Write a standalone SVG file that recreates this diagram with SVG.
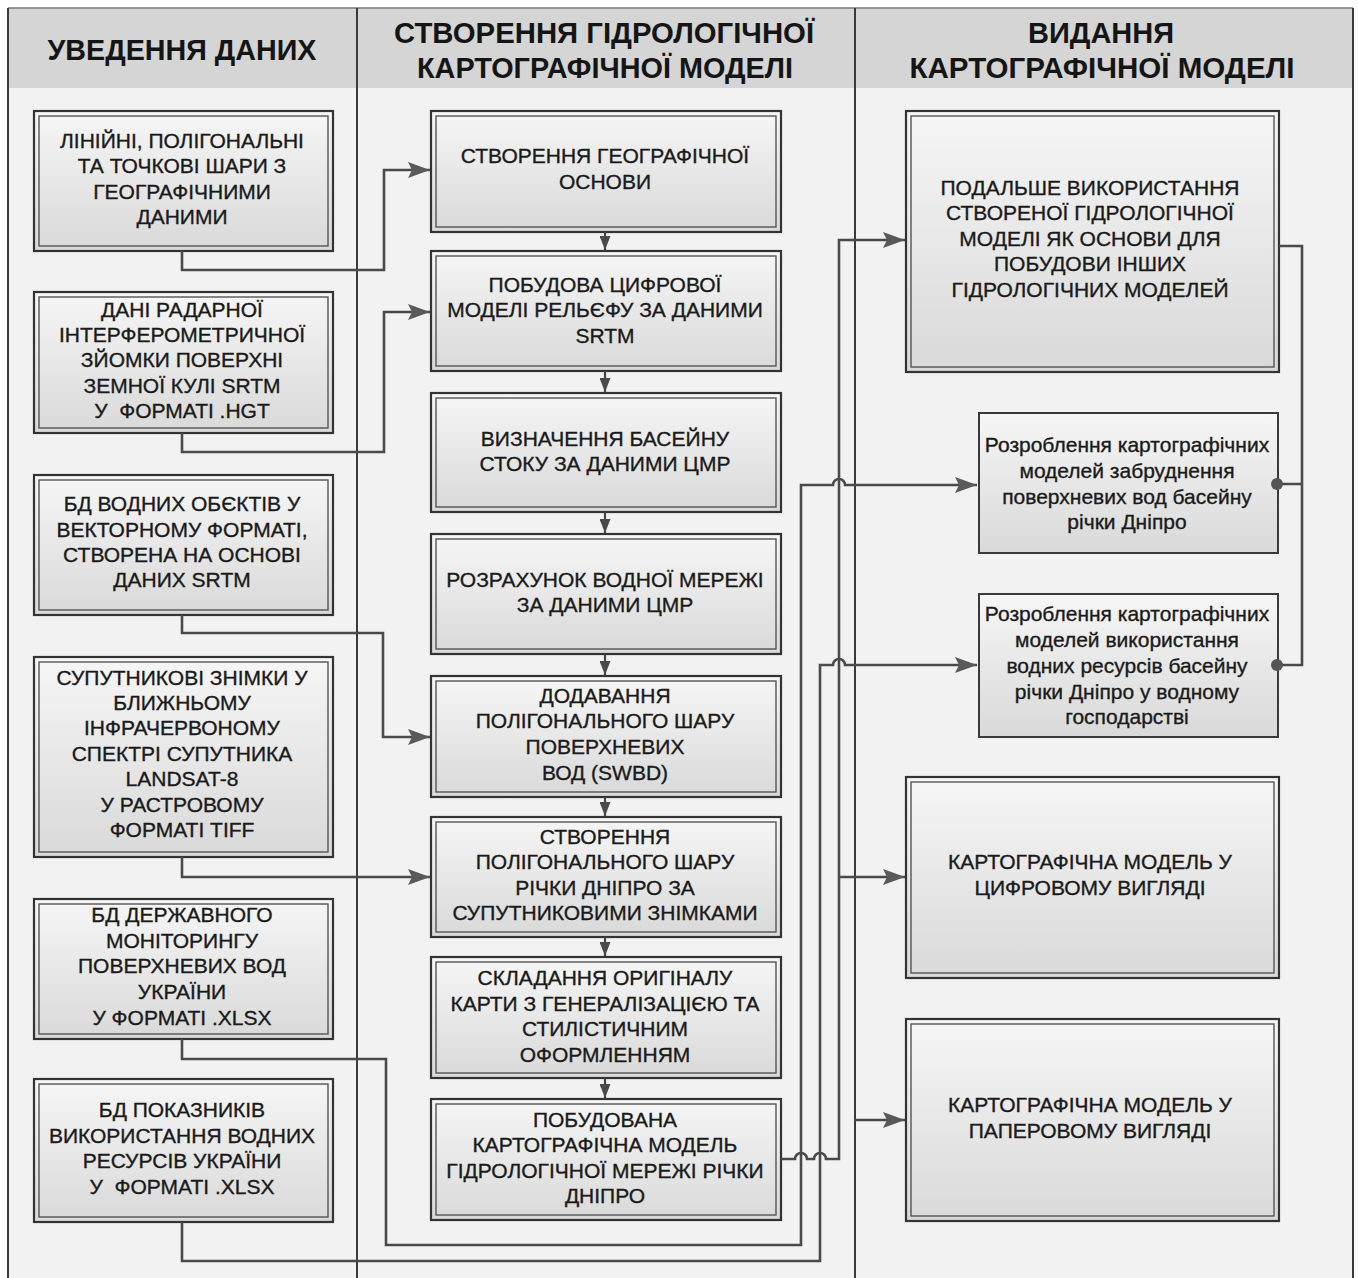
<svg xmlns="http://www.w3.org/2000/svg" width="1358" height="1278" viewBox="0 0 1358 1278">
<defs>
<linearGradient id="g" x1="0" y1="0" x2="0" y2="1">
<stop offset="0" stop-color="#f6f6f6"/>
<stop offset="1" stop-color="#d9d9d9"/>
</linearGradient>
<marker id="ah" viewBox="0 0 22 16" refX="22" refY="8" markerWidth="22" markerHeight="16" markerUnits="userSpaceOnUse" orient="auto">
<path d="M0,0 L22,8 L0,16 L4,8 Z" fill="#5a5a5a"/>
</marker>
<marker id="ad" viewBox="0 0 14 11" refX="14" refY="5.5" markerWidth="14" markerHeight="11" markerUnits="userSpaceOnUse" orient="auto">
<path d="M0,0 L14,5.5 L0,11 Z" fill="#4a4a4a"/>
</marker>
</defs>
<style>
.o{fill:url(#g);stroke:#333;stroke-width:2.2}
.i{fill:none;stroke:#555;stroke-width:1.4}
.s{fill:url(#g);stroke:#3a3a3a;stroke-width:2}
.t{font-family:"Liberation Sans",Arial,sans-serif;font-size:21px;fill:#1a1a1a;stroke:#1a1a1a;stroke-width:0.35;text-anchor:middle}
.h{font-family:"Liberation Sans",Arial,sans-serif;font-size:29px;font-weight:bold;fill:#151515;text-anchor:middle}
.c{fill:none;stroke:#4a4a4a;stroke-width:2.6}
.d{fill:none;stroke:#444;stroke-width:2.2}
.fr{fill:none;stroke:#3a3a3a;stroke-width:2}
</style>
<rect x="0" y="0" width="1358" height="1278" fill="#ffffff"/>
<g id="frame">
<rect x="8" y="8" width="1345" height="1270" fill="#f2f2f2"/>
<rect x="8" y="8" width="1345" height="80" fill="#d5d5d5"/>
<line x1="8" y1="8" x2="1353" y2="8" stroke="#777" stroke-width="1.5"/>
<line x1="8" y1="8" x2="8" y2="1278" class="fr"/>
<line x1="1353" y1="8" x2="1353" y2="1278" class="fr"/>
<line x1="357" y1="8" x2="357" y2="1278" class="fr"/>
<line x1="855" y1="8" x2="855" y2="1278" class="fr"/>
<text class="h" x="182" y="60" textLength="269" lengthAdjust="spacingAndGlyphs">УВЕДЕННЯ ДАНИХ</text>
<text class="h" x="604" y="43" textLength="420" lengthAdjust="spacingAndGlyphs">СТВОРЕННЯ ГІДРОЛОГІЧНОЇ</text>
<text class="h" x="605" y="78" textLength="376" lengthAdjust="spacingAndGlyphs">КАРТОГРАФІЧНОЇ МОДЕЛІ</text>
<text class="h" x="1101" y="43">ВИДАННЯ</text>
<text class="h" x="1102" y="78" textLength="385" lengthAdjust="spacingAndGlyphs">КАРТОГРАФІЧНОЇ МОДЕЛІ</text>
</g>

<g id="L1"><rect class="o" x="34" y="111" width="299" height="140"/><rect class="i" x="39" y="116" width="289" height="130"/>
<text class="t" x="182" y="148">ЛІНІЙНІ, ПОЛІГОНАЛЬНІ</text><text class="t" x="182" y="173">ТА ТОЧКОВІ ШАРИ З</text><text class="t" x="182" y="199">ГЕОГРАФІЧНИМИ</text><text class="t" x="182" y="224">ДАНИМИ</text></g>
<g id="L2"><rect class="o" x="34" y="292" width="299" height="141"/><rect class="i" x="39" y="297" width="289" height="131"/>
<text class="t" x="182" y="317">ДАНІ РАДАРНОЇ</text><text class="t" x="182" y="342">ІНТЕРФЕРОМЕТРИЧНОЇ</text><text class="t" x="182" y="367">ЗЙОМКИ ПОВЕРХНІ</text><text class="t" x="182" y="393">ЗЕМНОЇ КУЛІ SRTM</text><text class="t" x="182" y="418" xml:space="preserve">У  ФОРМАТІ .HGT</text></g>
<g id="L3"><rect class="o" x="34" y="475" width="299" height="140"/><rect class="i" x="39" y="480" width="289" height="130"/>
<text class="t" x="182" y="511">БД ВОДНИХ ОБЄКТІВ У</text><text class="t" x="182" y="537">ВЕКТОРНОМУ ФОРМАТІ,</text><text class="t" x="182" y="562">СТВОРЕНА НА ОСНОВІ</text><text class="t" x="182" y="587">ДАНИХ SRTM</text></g>
<g id="L4"><rect class="o" x="34" y="657" width="299" height="200"/><rect class="i" x="39" y="662" width="289" height="190"/>
<text class="t" x="182" y="685">СУПУТНИКОВІ ЗНІМКИ У</text><text class="t" x="182" y="710">БЛИЖНЬОМУ</text><text class="t" x="182" y="735">ІНФРАЧЕРВОНОМУ</text><text class="t" x="182" y="761">СПЕКТРІ СУПУТНИКА</text><text class="t" x="182" y="786">LANDSAT-8</text><text class="t" x="182" y="812">У РАСТРОВОМУ</text><text class="t" x="182" y="837">ФОРМАТІ TIFF</text></g>
<g id="L5"><rect class="o" x="34" y="899" width="299" height="140"/><rect class="i" x="39" y="904" width="289" height="130"/>
<text class="t" x="182" y="922">БД ДЕРЖАВНОГО</text><text class="t" x="182" y="948">МОНІТОРИНГУ</text><text class="t" x="182" y="973">ПОВЕРХНЕВИХ ВОД</text><text class="t" x="182" y="999">УКРАЇНИ</text><text class="t" x="182" y="1025">У ФОРМАТІ .XLSX</text></g>
<g id="L6"><rect class="o" x="34" y="1079" width="299" height="143"/><rect class="i" x="39" y="1084" width="289" height="133"/>
<text class="t" x="182" y="1117">БД ПОКАЗНИКІВ</text><text class="t" x="182" y="1143">ВИКОРИСТАННЯ ВОДНИХ</text><text class="t" x="182" y="1168">РЕСУРСІВ УКРАЇНИ</text><text class="t" x="182" y="1194" xml:space="preserve">У  ФОРМАТІ .XLSX</text></g>

<g id="M1"><rect class="o" x="431" y="111" width="350" height="121"/><rect class="i" x="436" y="116" width="340" height="111"/>
<text class="t" x="605" y="163">СТВОРЕННЯ ГЕОГРАФІЧНОЇ</text><text class="t" x="605" y="189">ОСНОВИ</text></g>
<g id="M2"><rect class="o" x="431" y="251" width="350" height="120"/><rect class="i" x="436" y="256" width="340" height="110"/>
<text class="t" x="605" y="292">ПОБУДОВА ЦИФРОВОЇ</text><text class="t" x="605" y="317">МОДЕЛІ РЕЛЬЄФУ ЗА ДАНИМИ</text><text class="t" x="605" y="343">SRTM</text></g>
<g id="M3"><rect class="o" x="431" y="393" width="350" height="119"/><rect class="i" x="436" y="398" width="340" height="109"/>
<text class="t" x="605" y="446">ВИЗНАЧЕННЯ БАСЕЙНУ</text><text class="t" x="605" y="471">СТОКУ ЗА ДАНИМИ ЦМР</text></g>
<g id="M4"><rect class="o" x="431" y="534" width="350" height="120"/><rect class="i" x="436" y="539" width="340" height="110"/>
<text class="t" x="605" y="587">РОЗРАХУНОК ВОДНОЇ МЕРЕЖІ</text><text class="t" x="605" y="612">ЗА ДАНИМИ ЦМР</text></g>
<g id="M5"><rect class="o" x="431" y="676" width="350" height="121"/><rect class="i" x="436" y="681" width="340" height="111"/>
<text class="t" x="605" y="703">ДОДАВАННЯ</text><text class="t" x="605" y="728">ПОЛІГОНАЛЬНОГО ШАРУ</text><text class="t" x="605" y="754">ПОВЕРХНЕВИХ</text><text class="t" x="605" y="780">ВОД (SWBD)</text></g>
<g id="M6"><rect class="o" x="431" y="817" width="350" height="120"/><rect class="i" x="436" y="822" width="340" height="110"/>
<text class="t" x="605" y="844">СТВОРЕННЯ</text><text class="t" x="605" y="869">ПОЛІГОНАЛЬНОГО ШАРУ</text><text class="t" x="605" y="895">РІЧКИ ДНІПРО ЗА</text><text class="t" x="605" y="920">СУПУТНИКОВИМИ ЗНІМКАМИ</text></g>
<g id="M7"><rect class="o" x="431" y="957" width="350" height="121"/><rect class="i" x="436" y="962" width="340" height="111"/>
<text class="t" x="605" y="985">СКЛАДАННЯ ОРИГІНАЛУ</text><text class="t" x="605" y="1011">КАРТИ З ГЕНЕРАЛІЗАЦІЄЮ ТА</text><text class="t" x="605" y="1036">СТИЛІСТИЧНИМ</text><text class="t" x="605" y="1062">ОФОРМЛЕННЯМ</text></g>
<g id="M8"><rect class="o" x="431" y="1099" width="350" height="121"/><rect class="i" x="436" y="1104" width="340" height="111"/>
<text class="t" x="605" y="1127">ПОБУДОВАНА</text><text class="t" x="605" y="1152">КАРТОГРАФІЧНА МОДЕЛЬ</text><text class="t" x="605" y="1178">ГІДРОЛОГІЧНОЇ МЕРЕЖІ РІЧКИ</text><text class="t" x="605" y="1203">ДНІПРО</text></g>

<g id="R1"><rect class="o" x="906" y="111" width="373" height="261"/><rect class="i" x="911" y="116" width="363" height="251"/>
<text class="t" x="1090" y="195">ПОДАЛЬШЕ ВИКОРИСТАННЯ</text><text class="t" x="1090" y="220">СТВОРЕНОЇ ГІДРОЛОГІЧНОЇ</text><text class="t" x="1090" y="246">МОДЕЛІ ЯК ОСНОВИ ДЛЯ</text><text class="t" x="1090" y="271">ПОБУДОВИ ІНШИХ</text><text class="t" x="1090" y="297">ГІДРОЛОГІЧНИХ МОДЕЛЕЙ</text></g>
<g id="R2"><rect class="s" x="979" y="413" width="299" height="140"/>
<text class="t" x="1127" y="452">Розроблення картографічних</text><text class="t" x="1127" y="478">моделей забруднення</text><text class="t" x="1127" y="504">поверхневих вод басейну</text><text class="t" x="1127" y="529">річки Дніпро</text></g>
<g id="R3"><rect class="s" x="979" y="594" width="299" height="143"/>
<text class="t" x="1127" y="621">Розроблення картографічних</text><text class="t" x="1127" y="647">моделей використання</text><text class="t" x="1127" y="673">водних ресурсів басейну</text><text class="t" x="1127" y="699">річки Дніпро у водному</text><text class="t" x="1127" y="724">господарстві</text></g>
<g id="R4"><rect class="o" x="906" y="777" width="373" height="201"/><rect class="i" x="911" y="782" width="363" height="191"/>
<text class="t" x="1090" y="869">КАРТОГРАФІЧНА МОДЕЛЬ У</text><text class="t" x="1090" y="895">ЦИФРОВОМУ ВИГЛЯДІ</text></g>
<g id="R5"><rect class="o" x="906" y="1019" width="373" height="202"/><rect class="i" x="911" y="1024" width="363" height="192"/>
<text class="t" x="1090" y="1112">КАРТОГРАФІЧНА МОДЕЛЬ У</text><text class="t" x="1090" y="1138">ПАПЕРОВОМУ ВИГЛЯДІ</text></g>

<g id="connectors">
<path class="c" d="M182,251 V270 H384 V170 H430" marker-end="url(#ah)"/>
<path class="c" d="M182,433 V452 H384 V312 H430" marker-end="url(#ah)"/>
<path class="c" d="M182,615 V633 H383 V737 H430" marker-end="url(#ah)"/>
<path class="c" d="M182,857 V877 H430" marker-end="url(#ah)"/>
<path class="c" d="M182,1039 V1059 H386 V1245 H801 V485 H833 A6,6 0 0 1 845,485 H977" marker-end="url(#ah)"/>
<path class="c" d="M182,1222 V1261 H820 V665 H833 A6,6 0 0 1 845,665 H977" marker-end="url(#ah)"/>
<path class="c" d="M781,1159 H795 A6,6 0 0 1 807,1159 H814 A6,6 0 0 1 826,1159 H839 V240 H905" marker-end="url(#ah)"/>
<path class="c" d="M839,877 H905" marker-end="url(#ah)"/>
<path class="c" d="M855,1120 H905" marker-end="url(#ah)"/>
<path class="c" d="M1279,246 H1302 V665 H1278 M1302,484 H1278"/>
<circle cx="1277" cy="484" r="6" fill="#555"/>
<circle cx="1277" cy="665" r="6" fill="#555"/>
<path class="d" d="M605,232 V250" marker-end="url(#ad)"/>
<path class="d" d="M605,371 V392" marker-end="url(#ad)"/>
<path class="d" d="M605,512 V533" marker-end="url(#ad)"/>
<path class="d" d="M605,654 V675" marker-end="url(#ad)"/>
<path class="d" d="M605,797 V816" marker-end="url(#ad)"/>
<path class="d" d="M605,937 V956" marker-end="url(#ad)"/>
<path class="d" d="M605,1078 V1098" marker-end="url(#ad)"/>
</g>
</svg>
